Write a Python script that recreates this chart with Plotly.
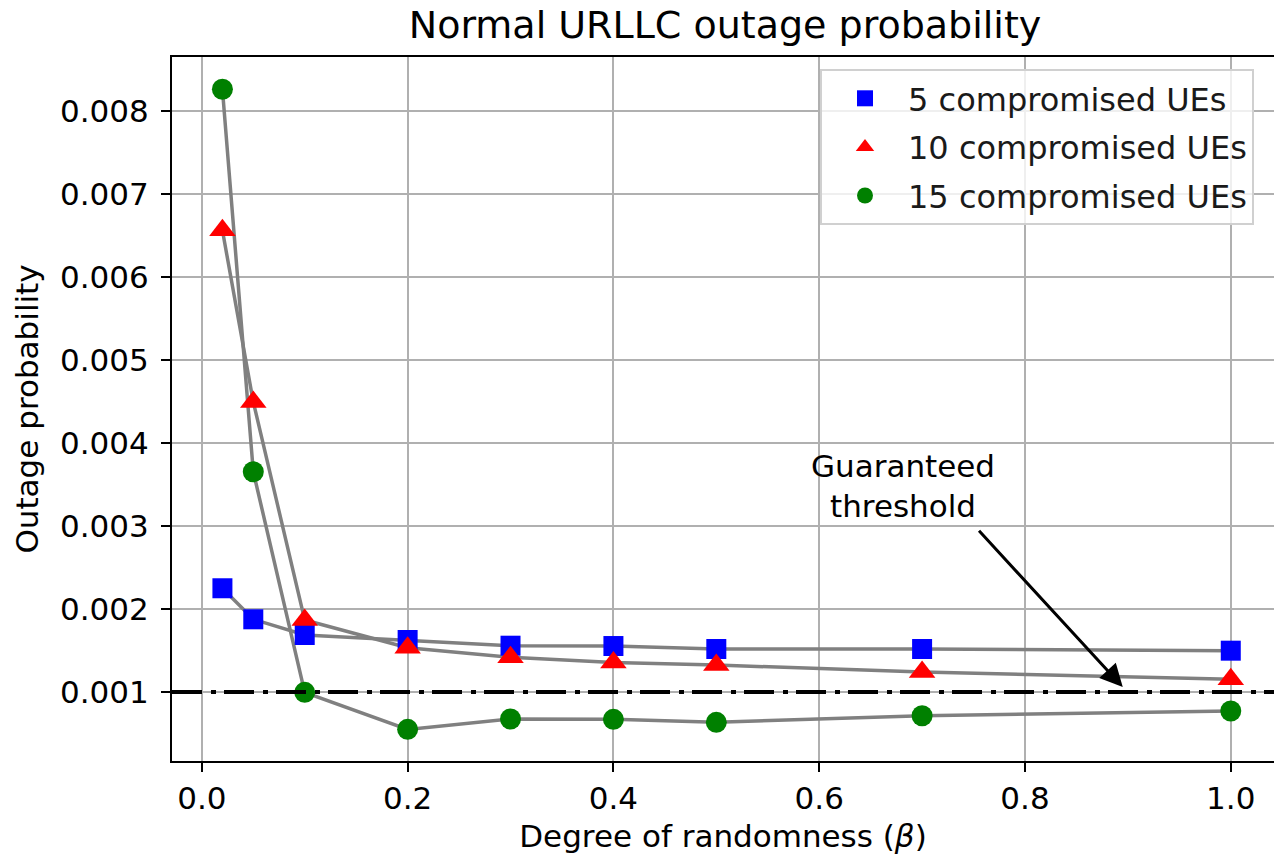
import plotly.graph_objects as go

# ---- data ----
beta = [0.02, 0.05, 0.1, 0.2, 0.3, 0.4, 0.5, 0.7, 1.0]
outage_5 = [0.00225, 0.001876, 0.001687, 0.001627, 0.001558, 0.001554, 0.001518, 0.001518, 0.001498]
outage_10 = [0.006563, 0.004494, 0.001867, 0.001534, 0.001419, 0.001355, 0.001325, 0.001241, 0.001155]
outage_15 = [0.008262, 0.003654, 0.000996, 0.00055, 0.000675, 0.000671, 0.000635, 0.000714, 0.000771]
series_names = ["5 compromised UEs", "10 compromised UEs", "15 compromised UEs"]
threshold = 0.001
x_ticks = [0.0, 0.2, 0.4, 0.6, 0.8, 1.0]
y_ticks = [0.001, 0.002, 0.003, 0.004, 0.005, 0.006, 0.007, 0.008]

FONT = "DejaVu Sans"
fig = go.Figure()

series = [outage_5, outage_10, outage_15]
# grey connecting lines (drawn first, under markers)
for ys in series:
    fig.add_trace(go.Scatter(x=beta, y=ys, mode="lines",
                             line=dict(color="#808080", width=3.5),
                             showlegend=False, hoverinfo="skip"))

styles = [("square", "#0000ff", 20), ("triangle-up", "#ff0000", 23), ("circle", "#008000", 21)]
for i, (ys, name, (sym, col, sz)) in enumerate(zip(series, series_names, styles)):
    fig.add_trace(go.Scatter(x=beta, y=ys, mode="markers", name=name, legendgroup=f"g{i}",
                             marker=dict(symbol=sym, color=col, size=sz, line=dict(width=0))))

# threshold (dash-dot black line across the axes)
fig.add_shape(type="line", xref="paper", x0=0, x1=1, yref="y", y0=threshold, y1=threshold,
              line=dict(color="black", width=4, dash="30px,9px,5px,8px"), layer="above")

# annotation text and arrow
fig.add_annotation(x=0.681, y=0.00348, xref="x", yref="y", text="Guaranteed<br>threshold",
                   showarrow=False, font=dict(family=FONT, size=31, color="black"),
                   xanchor="center", yanchor="middle")
fig.add_annotation(x=0.895, y=0.00106, xref="x", yref="y", ax=0.754, ay=0.00296,
                   axref="x", ayref="y", text="", showarrow=True,
                   arrowhead=2, arrowsize=1.5, arrowwidth=3, arrowcolor="black", standoff=0)

fig.update_layout(
    width=1274, height=859,
    margin=dict(l=172, r=0, t=57, b=98),
    paper_bgcolor="white", plot_bgcolor="white",
    font=dict(family=FONT, size=31, color="black"),
    title=dict(text="Normal URLLC outage probability", font=dict(family=FONT, size=38, color="black"),
               x=725 / 1274, xref="container", xanchor="center",
               y=1 - 25 / 859, yref="container", yanchor="middle"),
    legend=dict(x=(820 - 172) / 1102, y=(761 - 69) / 704, xanchor="left", yanchor="top",
                bgcolor="rgba(255,255,255,0.8)", bordercolor="#d0d0d0", borderwidth=2,
                itemwidth=76, tracegroupgap=4,
                font=dict(family=FONT, size=32, color="#1a1a1a")),
    showlegend=True,
)

fig.update_xaxes(range=[-0.029, 1.042], tickvals=x_ticks, ticktext=[f"{v:.1f}" for v in x_ticks],
                 showgrid=True, gridcolor="#b0b0b0", gridwidth=2,
                 showline=True, linecolor="black", linewidth=2, mirror=True,
                 ticks="outside", ticklen=9, tickwidth=2, tickcolor="black",
                 zeroline=False,
                 title=dict(text="Degree of randomness (<i>β</i>)", font=dict(family=FONT, size=31), standoff=10))
fig.update_yaxes(range=[0.000169, 0.00865], tickvals=y_ticks, ticktext=[f"{v:.3f}" for v in y_ticks],
                 showgrid=True, gridcolor="#b0b0b0", gridwidth=2,
                 showline=True, linecolor="black", linewidth=2, mirror=False,
                 ticks="outside", ticklen=9, tickwidth=2, tickcolor="black",
                 ticklabelstandoff=6, zeroline=False,
                 title=dict(text="Outage probability", font=dict(family=FONT, size=31), standoff=12))

fig.write_html("out.html")
